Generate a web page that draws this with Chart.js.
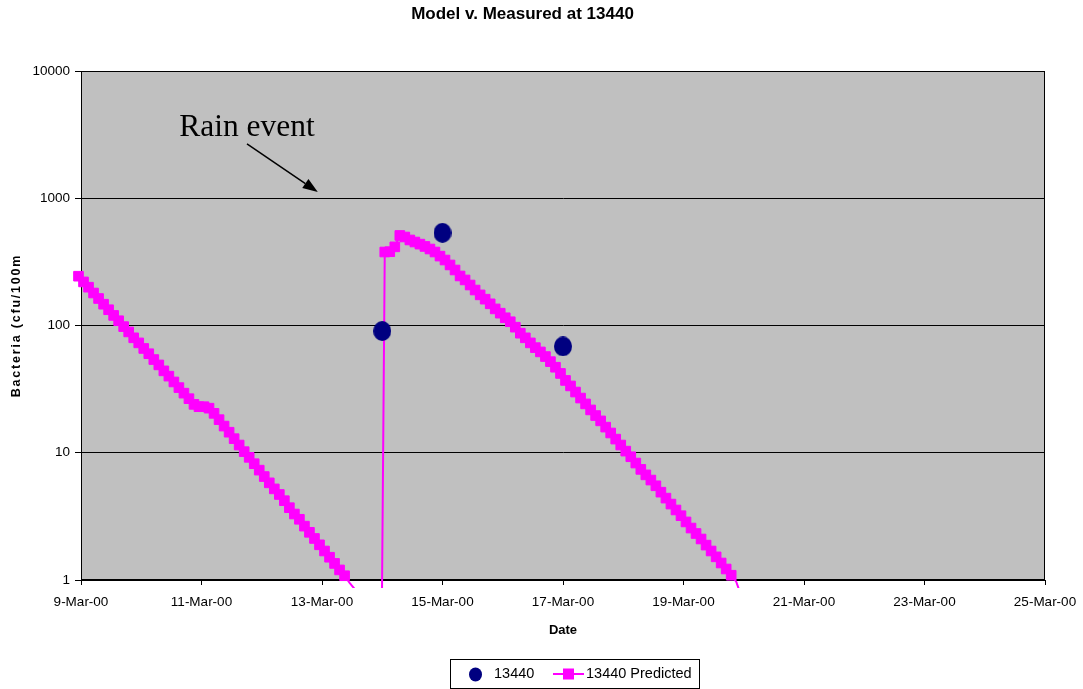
<!DOCTYPE html>
<html>
<head>
<meta charset="utf-8">
<script src="https://cdn.jsdelivr.net/npm/chart.js@4.4.1/dist/chart.umd.min.js"></script>
<style>
  html, body { margin: 0; padding: 0; background: #ffffff; }
  canvas { display: block; }
</style>
</head>
<body>
<canvas id="chart" width="1083" height="689"></canvas>
<script>
// ---- data -------------------------------------------------------------
// x values are days after 9-Mar-00 00:00
const dateLabels = ['9-Mar-00', '11-Mar-00', '13-Mar-00', '15-Mar-00', '17-Mar-00',
                    '19-Mar-00', '21-Mar-00', '23-Mar-00', '25-Mar-00'];
const yTickValues = [1, 10, 100, 1000, 10000];

// measured samples at station 13440
const measuredDays   = [5, 6, 8];
const measuredValues = [90.5, 535, 68.5];

// model output, one value every 2 hours starting 8-Mar-00 21:00
const predictedFirstHour = -3;
const predictedStepHours = 2;
const predictedValues = [
  // dry-weather decay
  268, 244, 220, 200, 180, 163, 147, 133, 120, 109,
  98, 89, 80, 73, 66, 60, 54, 49, 44, 40,
  36, 32.5, 29.4, 26.6, 24, 23, 23, 22.4, 20.4, 18.2,
  16.2, 14.5, 12.9, 11.5, 10.2, 9.2, 8.2, 7.3, 6.5, 5.8,
  5.2, 4.7, 4.2, 3.7, 3.3, 3.0, 2.65, 2.37, 2.12, 1.89,
  1.69, 1.51, 1.35, 1.2, 1.08, 0.95, 0.85, 0.7, 0.5, 0.2,
  0.05, 0.005,
  // after the rain event
  378, 380, 415, 510, 496, 470, 453, 436, 418, 399,
  378, 351, 327, 299, 273, 245, 228, 208, 190, 174,
  161, 148, 135, 125, 115, 107, 97, 87, 80, 73,
  67, 62, 57, 52, 47, 42, 37, 33.5, 30, 26.9,
  24.2, 21.7, 19.6, 17.8, 15.9, 14.3, 12.8, 11.5, 10.3, 9.3,
  8.3, 7.4, 6.7, 6.1, 5.5, 4.9, 4.4, 3.95, 3.55, 3.2,
  2.86, 2.56, 2.32, 2.1, 1.88, 1.69, 1.52, 1.36, 1.22, 1.09,
  0.97, 0.75, 0.5, 0.3
];

// callout: label position, arrow tail and arrow tip in (day, value)
const rainLabel = { text: 'Rain event', day: 2.755, value: 3085 };
const rainArrowFrom = { day: 2.755, value: 2670 };
const rainArrowTo   = { day: 3.93,  value: 1120 };

// ---- build datasets ---------------------------------------------------
const measuredPoints = measuredDays.map((d, i) => ({ x: d, y: measuredValues[i] }));
const predictedPoints = predictedValues.map((v, i) => ({
  x: (predictedFirstHour + i * predictedStepHours) / 24,
  y: v
}));

const SANS = "'Liberation Sans', Arial, sans-serif";
const NAVY = '#000080';
const MAGENTA = '#FF00FF';

function ellipseMarker(w, h, color) {
  const c = document.createElement('canvas');
  c.width = w; c.height = h;
  const g = c.getContext('2d');
  g.fillStyle = color;
  g.beginPath();
  g.ellipse(w / 2, h / 2, w / 2, h / 2, 0, 0, Math.PI * 2);
  g.fill();
  return c;
}

const frame = {
  id: 'frame',
  beforeDraw(chart) {
    const { ctx, chartArea: a } = chart;
    ctx.save();
    ctx.fillStyle = '#C0C0C0';
    ctx.fillRect(a.left, a.top, a.right - a.left, a.bottom - a.top);
    ctx.restore();
  },
  beforeDatasetsDraw(chart) {
    const { ctx, chartArea: a } = chart;
    ctx.save();
    ctx.strokeStyle = '#000';
    ctx.lineWidth = 1;
    ctx.strokeRect(Math.round(a.left) + 0.5, Math.round(a.top) + 0.5,
                   Math.round(a.right - a.left) - 1, Math.round(a.bottom - a.top) - 1);
    ctx.restore();
  },
  afterDraw(chart) {
    const { ctx, chartArea: a } = chart;
    const xs = chart.scales.x, ys = chart.scales.y;
    ctx.save();

    // y-axis title
    ctx.save();
    ctx.translate(17, (a.top + a.bottom) / 2);
    ctx.rotate(-Math.PI / 2);
    ctx.font = 'bold 12.5px ' + SANS;
    ctx.letterSpacing = '1.8px';
    ctx.fillStyle = '#000';
    ctx.textAlign = 'center';
    ctx.textBaseline = 'middle';
    ctx.fillText('Bacteria (cfu/100m', 0, 0);
    ctx.restore();

    // rain event callout
    ctx.font = "31.5px 'Liberation Serif', 'Times New Roman', serif";
    ctx.fillStyle = '#000';
    ctx.textAlign = 'center';
    ctx.textBaseline = 'alphabetic';
    ctx.fillText(rainLabel.text, xs.getPixelForValue(rainLabel.day), ys.getPixelForValue(rainLabel.value));
    const x0 = xs.getPixelForValue(rainArrowFrom.day), y0 = ys.getPixelForValue(rainArrowFrom.value);
    const x1 = xs.getPixelForValue(rainArrowTo.day),   y1 = ys.getPixelForValue(rainArrowTo.value);
    const ang = Math.atan2(y1 - y0, x1 - x0);
    const headLen = 15, headHalf = 5.5;
    const bx = x1 - headLen * Math.cos(ang), by = y1 - headLen * Math.sin(ang);
    ctx.strokeStyle = '#000';
    ctx.lineWidth = 1.5;
    ctx.beginPath();
    ctx.moveTo(x0, y0);
    ctx.lineTo(bx, by);
    ctx.stroke();
    ctx.beginPath();
    ctx.moveTo(x1, y1);
    ctx.lineTo(bx + headHalf * Math.sin(ang), by - headHalf * Math.cos(ang));
    ctx.lineTo(bx - headHalf * Math.sin(ang), by + headHalf * Math.cos(ang));
    ctx.closePath();
    ctx.fill();

    // legend
    const lx = 450, ly = 659, lw = 249, lh = 29;
    ctx.fillStyle = '#fff';
    ctx.fillRect(lx, ly, lw, lh);
    ctx.strokeStyle = '#000';
    ctx.lineWidth = 1;
    ctx.strokeRect(lx + 0.5, ly + 0.5, lw, lh);
    const cy = ly + 15;
    ctx.fillStyle = NAVY;
    ctx.beginPath();
    ctx.ellipse(475.5, cy + 0.5, 6.5, 7, 0, 0, Math.PI * 2);
    ctx.fill();
    ctx.strokeStyle = MAGENTA;
    ctx.lineWidth = 2;
    ctx.beginPath();
    ctx.moveTo(553, cy);
    ctx.lineTo(584, cy);
    ctx.stroke();
    ctx.fillStyle = MAGENTA;
    ctx.fillRect(563, cy - 5.5, 11, 11);
    ctx.fillStyle = '#000';
    ctx.font = '14.5px ' + SANS;
    ctx.textAlign = 'left';
    ctx.textBaseline = 'middle';
    ctx.fillText('13440', 494, cy);
    ctx.fillText('13440 Predicted', 586, cy);

    ctx.restore();
  }
};

new Chart(document.getElementById('chart'), {
  type: 'line',
  data: {
    datasets: [
      {
        label: '13440',
        data: measuredPoints,
        showLine: false,
        pointStyle: ellipseMarker(18, 20, NAVY),
        pointRadius: 10,
        backgroundColor: NAVY,
        borderColor: NAVY
      },
      {
        label: '13440 Predicted',
        data: predictedPoints,
        borderColor: MAGENTA,
        backgroundColor: MAGENTA,
        borderWidth: 2,
        tension: 0,
        pointStyle: 'rect',
        pointRadius: c => (c.raw && (c.raw.y < 1 || c.raw.x < -0.05)) ? 0 : 6.8,
        pointBorderWidth: 1,
        pointBorderColor: MAGENTA,
        pointBackgroundColor: MAGENTA,
        clip: { left: 8, top: 8, right: 8, bottom: 8 }
      }
    ]
  },
  options: {
    responsive: false,
    animation: false,
    devicePixelRatio: 1,
    events: [],
    layout: { padding: { left: 0, right: 38, top: 0, bottom: 0 } },
    plugins: {
      legend: { display: false },
      tooltip: { enabled: false },
      title: {
        display: true,
        text: 'Model v. Measured at 13440',
        color: '#000',
        font: { family: SANS, size: 17, weight: 'bold' },
        padding: { top: 4, bottom: 46.6 }
      }
    },
    scales: {
      x: {
        type: 'linear',
        min: 0,
        max: 16,
        afterBuildTicks: s => { s.ticks = dateLabels.map((_, i) => ({ value: i * 2 })); },
        afterFit: s => { s.height = 109; s.paddingLeft = 0; s.paddingRight = 38; },
        ticks: {
          autoSkip: false,
          maxRotation: 0,
          padding: 9,
          color: '#000',
          font: { family: SANS, size: 13.5 },
          callback: v => dateLabels[Math.round(v / 2)]
        },
        grid: { drawOnChartArea: false, drawTicks: true, tickLength: 5, color: '#000' },
        border: { display: true, color: '#000', width: 1 },
        title: {
          display: true,
          text: 'Date',
          color: '#000',
          font: { family: SANS, size: 13, weight: 'bold' },
          padding: { top: 0, bottom: 50.7 }
        }
      },
      y: {
        type: 'logarithmic',
        min: 1,
        max: 10000,
        afterBuildTicks: s => { s.ticks = yTickValues.map(v => ({ value: v })); },
        afterFit: s => { s.width = 81; },
        ticks: {
          padding: 5,
          color: '#000',
          font: { family: SANS, size: 13.5 },
          callback: v => String(v)
        },
        grid: { color: '#000', lineWidth: 1, drawTicks: true, tickLength: 6 },
        border: { display: true, color: '#000', width: 1 }
      }
    }
  },
  plugins: [frame]
});
</script>
</body>
</html>
